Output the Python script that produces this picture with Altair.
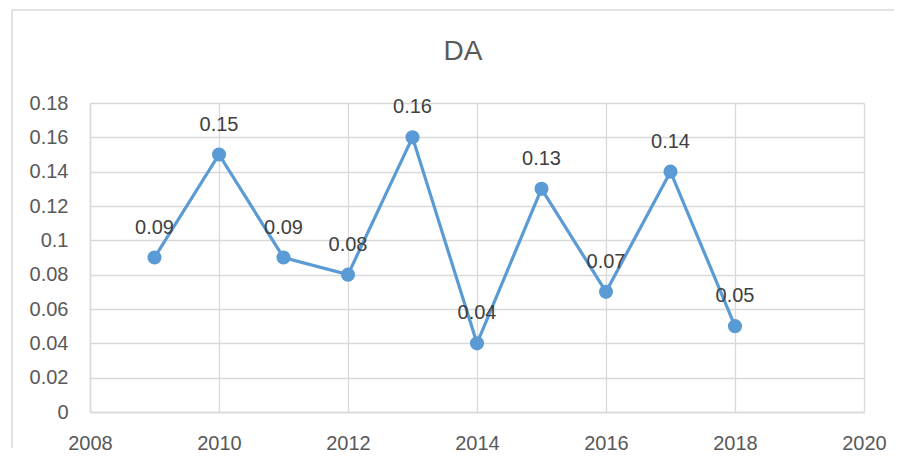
import altair as alt
import pandas as pd

years = [2009, 2010, 2011, 2012, 2013, 2014, 2015, 2016, 2017, 2018]
values = [0.09, 0.15, 0.09, 0.08, 0.16, 0.04, 0.13, 0.07, 0.14, 0.05]
x_ticks = [2008, 2010, 2012, 2014, 2016, 2018, 2020]
y_ticks = [0, 0.02, 0.04, 0.06, 0.08, 0.1, 0.12, 0.14, 0.16, 0.18]

df = pd.DataFrame({"year": years, "value": values})

FONT = "Liberation Sans"
TXT = "#595959"
BLUE = "#5B9BD5"
GRID = "#d9d9d9"

x = alt.X("year:Q", scale=alt.Scale(domain=[2008, 2020], nice=False, zero=False),
          axis=alt.Axis(values=x_ticks, format="d", title=None, grid=True,
                        gridColor=GRID, gridWidth=1.3, domainColor=GRID, domainWidth=1.5,
                        ticks=False, labelFont=FONT, labelFontSize=20, labelColor=TXT,
                        labelPadding=21, labelFlush=False))
y = alt.Y("value:Q", scale=alt.Scale(domain=[0, 0.18], nice=False),
          axis=alt.Axis(values=y_ticks, format="~g", title=None, grid=True,
                        gridColor=GRID, gridWidth=1.3, domainColor=GRID, domainWidth=1.5,
                        ticks=False, labelFont=FONT, labelFontSize=20, labelColor=TXT,
                        labelPadding=22, labelFlush=False))

base = alt.Chart(df)
one = pd.DataFrame({"a": [0]})

frame_top = alt.Chart(one).mark_rule(color=GRID, strokeWidth=1.5).encode(
    x=alt.value(-78), x2=alt.value(806), y=alt.value(-93))
frame_left = alt.Chart(one).mark_rule(color=GRID, strokeWidth=1.5).encode(
    x=alt.value(-78), y=alt.value(-93), y2=alt.value(345))

line = base.mark_line(color=BLUE, strokeWidth=3.2).encode(x=x, y=y)
pts = base.mark_circle(color=BLUE, size=200, opacity=1).encode(x=x, y=y)
labels = base.mark_text(font=FONT, fontSize=20, color="#404040", baseline="alphabetic",
                        dy=-24).encode(x=x, y=y, text=alt.Text("value:Q", format=".2f"))

chart = alt.layer(frame_top, frame_left, line, pts, labels).properties(
    width=774, height=309,
    title=alt.TitleParams("DA", font=FONT, fontSize=28, fontWeight="normal", color=TXT,
                          anchor="middle", dx=-14, offset=-57),
    autosize=alt.AutoSizeParams(type="none"),
    padding={"left": 82, "top": 95, "right": 30, "bottom": 40},
).configure_view(stroke=None)

chart.save("out.html", embed_options={"renderer": "svg", "actions": False})
